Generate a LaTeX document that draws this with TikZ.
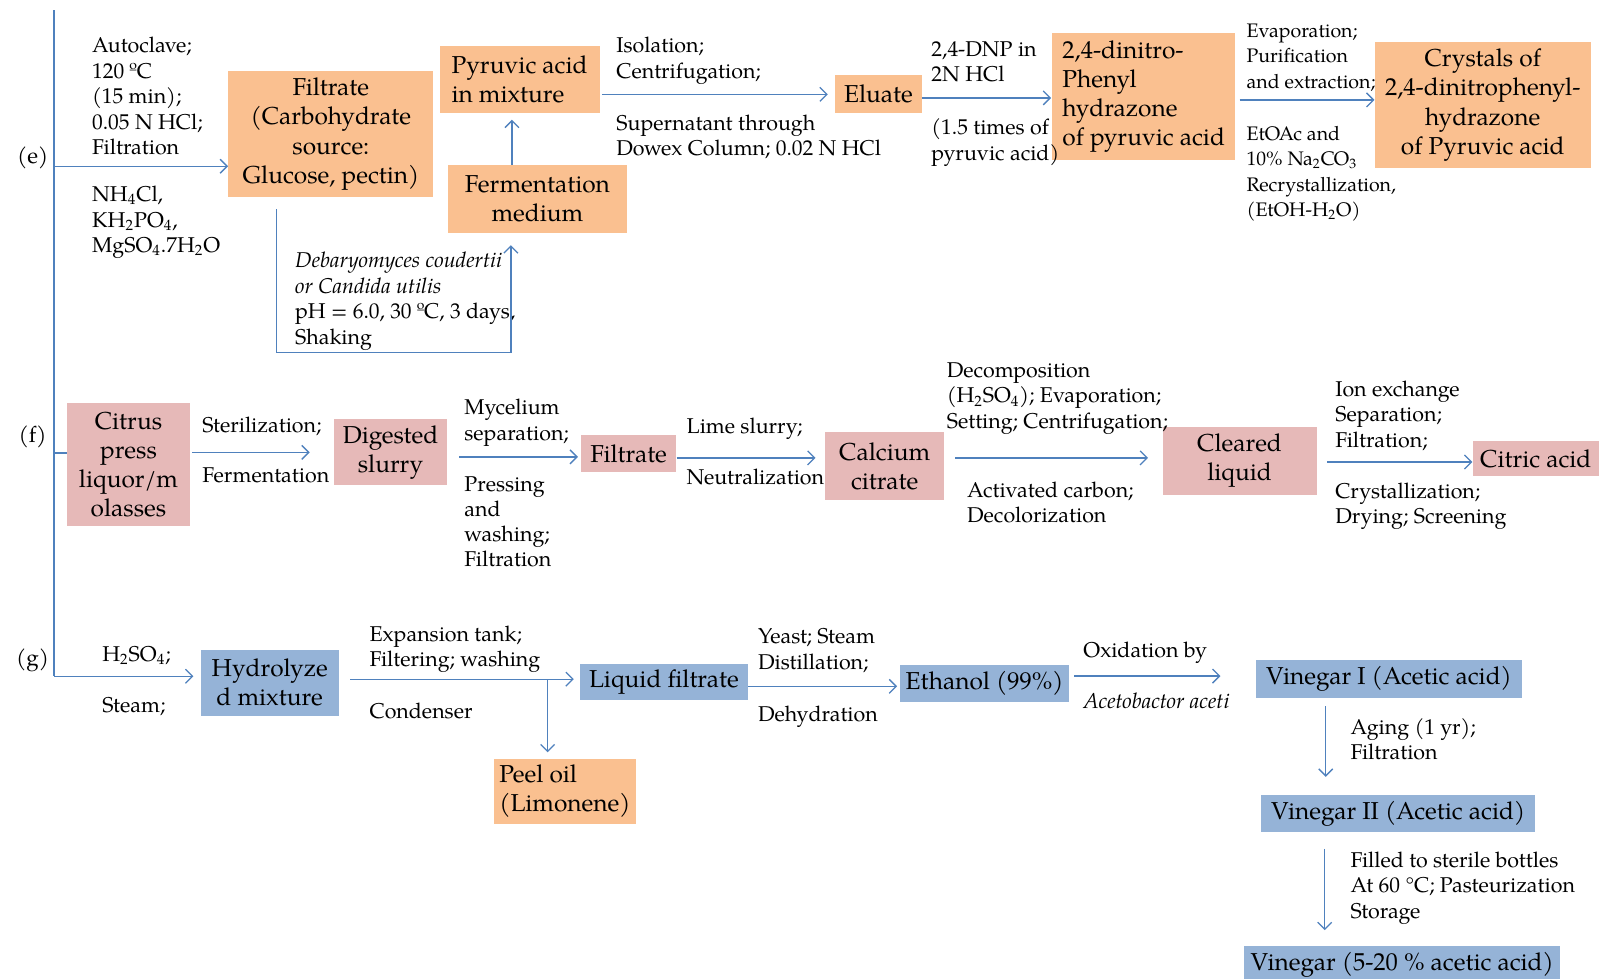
\documentclass[tikz,border=0pt]{standalone}
\usepackage{fontspec}
\setmainfont{TeX Gyre Pagella}
\usetikzlibrary{arrows.meta}
\definecolor{orng}{HTML}{FAC090}
\definecolor{pnk}{HTML}{E6B9B8}
\definecolor{blu}{HTML}{95B3D7}
\definecolor{lnc}{HTML}{4F81BD}
\tikzset{
  box/.style={rectangle, inner sep=0pt, align=center, font=\fontsize{12}{14.3}\selectfont},
  lab/.style={inner sep=0pt, anchor=north west, align=left, font=\fontsize{10.5}{12.5}\selectfont},
  smlab/.style={lab, font=\fontsize{9.6}{12.5}\selectfont},
  tag/.style={inner sep=0pt, font=\fontsize{11}{13}\selectfont},
  conn/.style={draw=lnc, line width=0.65pt},
  arr/.style={conn, -{Straight Barb[length=3.5pt,width=7pt]}},
}
\begin{document}
\begin{tikzpicture}[x=0.5pt,y=-0.5pt,scale=1.0198,transform shape]
\useasboundingbox[fill=white] (0,0) rectangle (1568,960);

% ---------- (e) ----------
\node[tag] (te) at (32,155) {(e)};
\node[tag] (tf) at (32,428) {(f)};
\node[tag] (tg) at (32,648) {(g)};

\node[box, fill=orng, minimum width=100.5pt, minimum height=61.5pt] (filt) at (324.5,131.5)
  {Filtrate\\(Carbohydrate\\source:\\Glucose, pectin)};
\node[box, fill=orng, minimum width=78.5pt, minimum height=33pt, align=left] (pyr) at (509.5,78)
  {Pyruvic acid\\in mixture};
\node[box, fill=orng, minimum width=88pt, minimum height=33pt] (ferm) at (527,195)
  {Fermentation\\medium};
\node[box, fill=orng, minimum width=42.5pt, minimum height=18.5pt] (elu) at (861.5,92.5) {Eluate};
\node[box, fill=orng, minimum width=89.5pt, minimum height=62.5pt, align=left] (dnp) at (1121.5,94.5)
  {2,4-dinitro-\\Phenyl\\hydrazone\\of pyruvic acid};
\node[box, fill=orng, minimum width=106pt, minimum height=62pt] (crys) at (1454,103)
  {Crystals of\\2,4-dinitrophenyl-\\hydrazone\\of Pyruvic acid};

\node[lab] (l1) at (90,36) {Autoclave;\\120 ºC\\(15 min);\\0.05 N HCl;\\Filtration};
\node[lab] (l2) at (90,182) {NH\textsubscript{4}Cl,\\KH\textsubscript{2}PO\textsubscript{4},\\MgSO\textsubscript{4}.7H\textsubscript{2}O};
\node[lab] (l3) at (289,247) {\textit{Debaryomyces coudertii}\\\textit{or Candida utilis}\\pH = 6.0, 30 ºC, 3 days,\\Shaking};
\node[lab] (l4) at (604,36) {Isolation;\\Centrifugation;};
\node[lab] (l5) at (604,112) {Supernatant through\\Dowex Column; 0.02 N HCl};
\node[lab] (l6) at (913,40) {2,4-DNP in\\2N HCl};
\node[lab] (l7) at (913,116) {(1.5 times of\\pyruvic acid)};
\node[smlab] (l8) at (1222,23) {Evaporation;\\Purification\\and extraction;};
\node[smlab] (l9) at (1222,123) {EtOAc and\\10\% Na\textsubscript{2}CO\textsubscript{3}\\Recrystallization,\\(EtOH-H\textsubscript{2}O)};

\coordinate (t0) at (53,10);
\coordinate (e0) at (53,163);
\coordinate (f0) at (53,444);
\coordinate (g0) at (53,663);
\draw[conn] (t0) -- (g0);
\draw[arr] (e0) -- (e0 -| filt.west);
\draw[arr] (ferm.north -| 502,0) -- ([yshift=-3pt]pyr.south -| 502,0);
\draw[arr] ([yshift=-6pt]filt.south -| 271,0) |- (501,346) -- ([yshift=-6pt]ferm.south -| 501,0);
\draw[arr] ([xshift=1pt]pyr.east |- elu.west) -- ([xshift=-3.5pt]elu.west);
\draw[arr] (elu.east |- 0,96) -- ([xshift=-0.5pt]dnp.west |- 0,96);
\draw[arr] ([xshift=2pt]dnp.east |- 0,98) -- (crys.west |- 0,98);

% ---------- (f) ----------
\node[box, fill=pnk, minimum width=60pt, minimum height=60.5pt] (cit) at (126,455.5)
  {Citrus\\press\\liquor/m\\olasses};
\node[box, fill=pnk, minimum width=55pt, minimum height=32.5pt] (dig) at (383,443.5) {Digested\\slurry};
\node[box, fill=pnk, minimum width=46.5pt, minimum height=18pt] (filt2) at (616.5,445) {Filtrate};
\node[box, fill=pnk, minimum width=58.5pt, minimum height=33pt] (cal) at (867.5,457) {Calcium\\citrate};
\node[box, fill=pnk, minimum width=75.5pt, minimum height=33pt] (clr) at (1215.5,452) {Cleared\\liquid};
\node[box, fill=pnk, minimum width=62pt, minimum height=17.5pt] (citac) at (1506,449.5) {Citric acid};

\node[lab] (m1) at (198,408) {Sterilization;};
\node[lab] (m2) at (198,458) {Fermentation};
\node[lab] (m3) at (455,391) {Mycelium\\separation;};
\node[lab, font=\fontsize{10.5}{12.2}\selectfont] (m4) at (455,467) {Pressing\\and\\washing;\\Filtration};
\node[lab] (m5) at (673,409) {Lime slurry;};
\node[lab] (m6) at (673,459) {Neutralization};
\node[lab] (m7) at (928,355) {Decomposition\\(H\textsubscript{2}SO\textsubscript{4}); Evaporation;\\Setting; Centrifugation;};
\node[lab] (m8) at (948,472) {Activated carbon;\\Decolorization};
\node[lab] (m9) at (1309,373) {Ion exchange\\Separation;\\Filtration;};
\node[lab] (m10) at (1309,473) {Crystallization;\\Drying; Screening};

\draw[conn] (f0) -- (f0 -| cit.west);
\draw[arr] ([xshift=1pt]cit.east |- dig.west) -- ([xshift=-12pt]dig.west);
\draw[arr] ([xshift=6pt]dig.east |- 0,448) -- ([xshift=-1.5pt]filt2.west |- 0,448);
\draw[arr] (filt2.east |- 0,449) -- ([xshift=-4.5pt]cal.west |- 0,449);
\draw[arr] ([xshift=5pt]cal.east |- 0,449) -- ([xshift=-7pt]clr.west |- 0,449);
\draw[arr] ([xshift=5pt]clr.east |- 0,453) -- (citac.west |- 0,453);

% ---------- (g) ----------
\node[box, fill=blu, minimum width=67.5pt, minimum height=32.5pt] (hyd) at (264.5,669.5) {Hydrolyze\\d mixture};
\node[box, fill=blu, minimum width=82pt, minimum height=17.5pt] (liq) at (651,668.5) {Liquid filtrate};
\node[box, fill=orng, minimum width=70pt, minimum height=32pt, align=left] (peel) at (554,776) {Peel oil\\(Limonene)};
\node[box, fill=blu, minimum width=82.5pt, minimum height=18pt] (eth) at (965.5,670) {Ethanol (99\%)};
\node[box, fill=blu, minimum width=130pt, minimum height=18.5pt] (vin1) at (1362,665.5) {Vinegar I (Acetic acid)};
\node[box, fill=blu, minimum width=134pt, minimum height=18pt] (vin2) at (1371,798) {Vinegar II (Acetic acid)};
\node[box, fill=blu, minimum width=155pt, text height=12pt, text depth=17pt, anchor=north] (vin3) at (1375,927)
  {Vinegar (5-20 \% acetic acid)};

\node[lab] (n1) at (100,633) {H\textsubscript{2}SO\textsubscript{4};};
\node[lab] (n2) at (100,683) {Steam;};
\node[lab] (n3) at (362,613) {Expansion tank;\\Filtering; washing};
\node[lab] (n4) at (362,689) {Condenser};
\node[lab] (n5) at (743,616) {Yeast; Steam\\Distillation;};
\node[lab] (n6) at (743,692) {Dehydration};
\node[lab] (n7) at (1062,629) {Oxidation by};
\node[lab] (n8) at (1062,679) {\textit{Acetobactor aceti}};
\node[lab] (n9) at (1324,704) {Aging (1 yr);\\Filtration};
\node[lab] (n10) at (1324,835) {Filled to sterile bottles\\At 60 °C; Pasteurization\\Storage};

\draw[arr] (g0) -- ([xshift=-3.5pt]g0 -| hyd.west);
\draw[arr] ([xshift=5.5pt]hyd.east |- 0,666) -- ([xshift=-3pt]liq.west |- 0,666);
\draw[arr] (537,666) -- ([yshift=3pt]peel.north -| 537,0);
\draw[arr] (liq.east |- 0,673) -- ([xshift=-1.5pt]eth.west |- 0,673);
\draw[arr] ([xshift=2.5pt]eth.east |- 0,663) -- ([xshift=-17.5pt]vin1.west |- 0,663);
\draw[arr] ([yshift=-4pt]vin1.south -| 1300,0) -- ([yshift=9pt]vin2.north -| 1300,0);
\draw[arr] ([yshift=-8pt]vin2.south -| 1299,0) -- ([yshift=7.5pt]vin3.north -| 1299,0);
\end{tikzpicture}
\end{document}
